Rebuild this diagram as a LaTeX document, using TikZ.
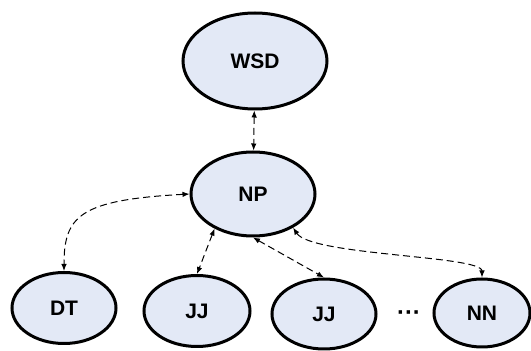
\documentclass[tikz,border=0pt]{standalone}
\usepackage{fontspec}
\setmainfont{Liberation Sans}
\usepackage{tikz}
\usetikzlibrary{shapes.geometric, arrows, arrows.meta, positioning}
\definecolor{nodefill}{RGB}{227,233,246}
\tikzstyle{tag} = [ellipse, inner sep=0pt, minimum width=104pt, minimum height=70pt, draw=black, line width=3pt, fill=nodefill, font=\bfseries\fontsize{21}{25}\selectfont]
\tikzstyle{arrow} = [{Latex[length=7pt,width=5.5pt]}-{Latex[length=7pt,width=5.5pt]}, dash pattern=on 7pt off 4pt, line width=1pt]

\begin{document}
\begin{tikzpicture}[x=1pt, y=1pt]
\useasboundingbox (0,0) rectangle (531,351);

% Nodes
\node (wsd) [tag, minimum width=144pt, minimum height=96pt] at (255,290) {WSD};
\node (np) [tag, minimum width=124pt, minimum height=84pt] at (253,157) {NP};
\node (dt) [tag, minimum width=104pt, minimum height=71pt] at (64,43) {DT};
\node (jja) [tag, minimum width=106pt, minimum height=71pt] at (197,40) {JJ};
\node (jjb) [tag] at (324,37) {JJ};
\node (nn) [tag, minimum width=96pt, minimum height=68pt] at (482,38) {NN};
\node (dots) at (409,35) {\fontsize{24}{28}\selectfont\bfseries ···};

% Arrows
\draw [arrow] (wsd) -- (np);
\draw [arrow] (np.west) .. controls +(-110,-6) and +(0,55) .. (dt.north);
\draw [arrow] (np.222) -- (jja.north);
\draw [arrow] (np.south) -- (jjb.north);
\draw [arrow] (np.320) .. controls +(18,-28) and +(0,22) .. (nn.north);

\end{tikzpicture}
\end{document}
